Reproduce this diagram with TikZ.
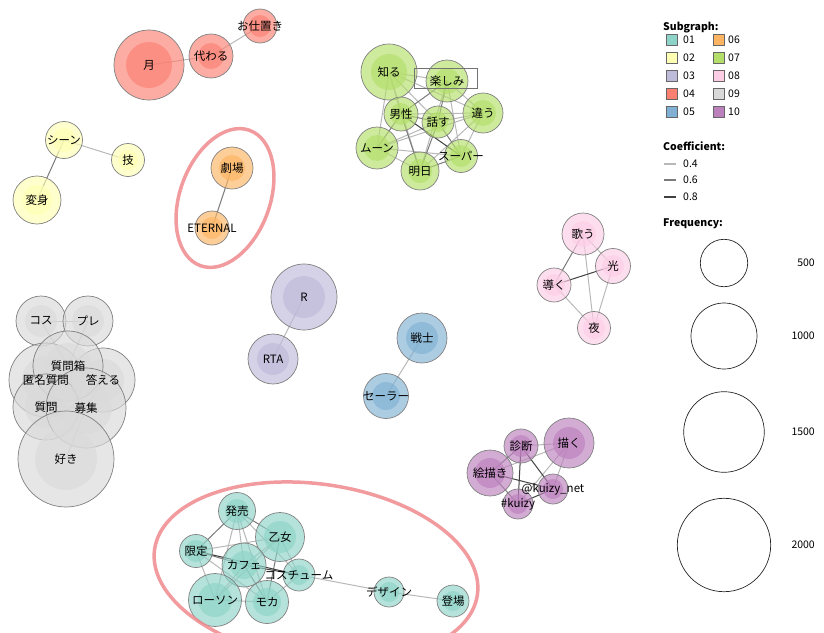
\documentclass[tikz,border=0pt]{standalone}
\usepackage{fontspec}
\setmainfont{Noto Sans CJK JP}
\usetikzlibrary{backgrounds}
\definecolor{c01}{HTML}{8DD3C7}
\definecolor{c02}{HTML}{FFFFB3}
\definecolor{c03}{HTML}{BEBADA}
\definecolor{c04}{HTML}{FB8072}
\definecolor{c05}{HTML}{80B1D3}
\definecolor{c06}{HTML}{FDB462}
\definecolor{c07}{HTML}{B3DE69}
\definecolor{c08}{HTML}{FCCDE5}
\definecolor{c09}{HTML}{D9D9D9}
\definecolor{c10}{HTML}{BC80BD}
\definecolor{ring}{HTML}{EE8A8E}
\newcommand\wordfont{\fontsize{11.5}{13}\selectfont}
\newcommand\keyfont{\fontsize{10.5}{12}\selectfont}
\tikzset{
    word/.style n args={3}{circle, draw=black!50, line width=0.7pt, fill=#1,
        fill opacity=0.65, minimum size=2*#2, inner sep=0pt,
        path picture={\fill[#1] (path picture bounding box.center) circle (#3);}},
    wordtext/.style={font=\wordfont, inner sep=0pt},
    e4/.style={draw=black!28, line width=1pt},
    e6/.style={draw=black!52, line width=1pt},
    e8/.style={draw=black!75, line width=1pt},
    group/.style={draw=ring, line width=3.5pt, draw opacity=0.85},
    keytext/.style={anchor=west, font=\keyfont, inner sep=0pt},
}
\begin{document}
\begin{tikzpicture}[x=1pt,y=-1pt]
        \useasboundingbox (0,0) rectangle (824,632);
        % subgraph 04
        \node[word={c04}{35}{23}] (tsuki) at (149,65) {};
        \node[word={c04}{22}{13}] (kawaru) at (211,56) {};
        \node[word={c04}{17}{11}] (oshioki) at (260,26) {};
        % subgraph 02
        \node[word={c02}{18.5}{12}] (scene) at (64,140) {};
        \node[word={c02}{16.5}{10}] (waza) at (128,160) {};
        \node[word={c02}{24}{15}] (henshin) at (37,200) {};
        % subgraph 06
        \node[word={c06}{21}{13}] (gekijo) at (232,168) {};
        \node[word={c06}{17}{11}] (eternal) at (212,228) {};
        % subgraph 07
        \node[word={c07}{28}{18}] (shiru) at (389,72) {};
        \node[word={c07}{21}{13}] (tanoshimi) at (447,81) {};
        \node[word={c07}{17}{11}] (dansei) at (401,114) {};
        \node[word={c07}{16}{10}] (hanasu) at (438,122) {};
        \node[word={c07}{20}{13}] (chigau) at (483,113) {};
        \node[word={c07}{21}{13}] (moon) at (377,148) {};
        \node[word={c07}{19}{12}] (ashita) at (420,171) {};
        \node[word={c07}{16.5}{11}] (super) at (461,156) {};
        % subgraph 09
        \node[word={c09}{25}{16}] (kos) at (41,321) {};
        \node[word={c09}{25}{16}] (pure) at (88,321) {};
        \node[word={c09}{37}{24}] (tokumei) at (46,380) {};
        \node[word={c09}{32}{21}] (kotaeru) at (103,380) {};
        \node[word={c09}{35}{23}] (shitsumonbako) at (68,366) {};
        \node[word={c09}{33}{21}] (shitsumon) at (46,407) {};
        \node[word={c09}{40}{26}] (boshu) at (86,408) {};
        \node[word={c09}{48}{31}] (suki) at (66,459) {};
        % subgraph 03 and 05
        \node[word={c03}{33}{21}] (R) at (304,297) {};
        \node[word={c03}{25}{16}] (rta) at (273,359) {};
        \node[word={c05}{25}{16}] (senshi) at (422,338) {};
        \node[word={c05}{22.5}{14}] (sailor) at (386,396) {};
        % subgraph 08
        \node[word={c08}{21}{13}] (utau) at (583,234) {};
        \node[word={c08}{17.5}{11}] (hikari) at (613,266) {};
        \node[word={c08}{17}{11}] (michibiku) at (554,285) {};
        \node[word={c08}{16.5}{11}] (yoru) at (594,328) {};
        % subgraph 10
        \node[word={c10}{25}{16}] (egaku) at (569,443) {};
        \node[word={c10}{17}{11}] (shindan) at (521,446) {};
        \node[word={c10}{23}{15}] (ekaki) at (490,473) {};
        \node[word={c10}{15}{10}] (kuizynet) at (553,489) {};
        \node[word={c10}{15}{10}] (kuizy) at (518,504) {};
        % subgraph 01
        \node[word={c01}{18.5}{12}] (hatsubai) at (237,511) {};
        \node[word={c01}{24.5}{16}] (otome) at (280,537) {};
        \node[word={c01}{16.5}{11}] (gentei) at (196,551) {};
        \node[word={c01}{22}{14}] (cafe) at (244,565) {};
        \node[word={c01}{16}{10}] (costume) at (299,575) {};
        \node[word={c01}{26.5}{17}] (lawson) at (215,600) {};
        \node[word={c01}{21.5}{14}] (mocha) at (267,602) {};
        \node[word={c01}{15}{10}] (design) at (389,592) {};
        \node[word={c01}{16}{10}] (tojo) at (453,601) {};
        \begin{scope}[on background layer]
            \foreach \a/\b in {tsuki/kawaru, kawaru/oshioki, scene/waza, R/rta, senshi/sailor,
                shiru/tanoshimi, shiru/dansei, shiru/hanasu, shiru/chigau, shiru/moon, shiru/ashita,
                tanoshimi/chigau, tanoshimi/ashita, tanoshimi/super, dansei/chigau, hanasu/chigau,
                hanasu/moon, chigau/super, chigau/ashita, moon/ashita, moon/super, moon/chigau,
                kos/pure, kos/shitsumonbako, pure/shitsumonbako, shitsumonbako/kotaeru,
                tokumei/shitsumon, boshu/suki, kotaeru/boshu,
                utau/hikari, utau/yoru, michibiku/yoru, hikari/yoru,
                egaku/shindan, egaku/ekaki, egaku/kuizynet, egaku/kuizy,
                hatsubai/cafe, hatsubai/lawson, hatsubai/mocha, hatsubai/costume, otome/gentei,
                otome/cafe, otome/lawson, otome/costume, gentei/lawson, gentei/mocha, cafe/lawson,
                lawson/mocha, mocha/costume, costume/design, design/tojo}
                \draw[e4] (\a.center) -- (\b.center);
            \foreach \a/\b in {scene/henshin, gekijo/eternal, tanoshimi/dansei, tanoshimi/hanasu,
                dansei/hanasu, dansei/moon, dansei/ashita, hanasu/ashita, hanasu/super, ashita/super,
                shitsumonbako/tokumei, shitsumon/boshu, utau/michibiku, shindan/ekaki, ekaki/kuizy,
                hatsubai/otome, hatsubai/gentei, otome/mocha, gentei/cafe, cafe/mocha}
                \draw[e6] (\a.center) -- (\b.center);
            \foreach \a/\b in {dansei/super, michibiku/hikari, shindan/kuizy, shindan/kuizynet,
                ekaki/kuizynet, kuizynet/kuizy, gentei/costume, cafe/costume}
                \draw[e8] (\a.center) -- (\b.center);
        \end{scope}
        \foreach \n/\t in {tsuki/月, kawaru/代わる, oshioki/お仕置き, scene/シーン, waza/技,
            henshin/変身, gekijo/劇場, eternal/ETERNAL, shiru/知る, tanoshimi/楽しみ, dansei/男性,
            hanasu/話す, chigau/違う, moon/ムーン, ashita/明日, super/スーパー, kos/コス, pure/プレ,
            tokumei/匿名質問, kotaeru/答える, shitsumonbako/質問箱, shitsumon/質問, boshu/募集,
            suki/好き, R/R, rta/RTA, senshi/戦士, sailor/セーラー, utau/歌う, hikari/光,
            michibiku/導く, yoru/夜, egaku/描く, shindan/診断, ekaki/絵描き,
            kuizynet/@kuizy\_net, kuizy/\#kuizy, hatsubai/発売, otome/乙女, gentei/限定,
            cafe/カフェ, costume/コスチューム, lawson/ローソン, mocha/モカ, design/デザイン, tojo/登場}
            \node[wordtext] at (\n) {\t};
        \draw[black!55, line width=0.7pt] (414,68) rectangle (477,88);
        \draw[group, rotate around={70:(225,198)}] (225,198) ellipse [x radius=72, y radius=45];
        \draw[group, rotate around={-8:(316,572)}] (316,572) ellipse [x radius=163, y radius=88];
        % legend
        \node[keytext, font=\keyfont\bfseries] (subgraph) at (663,28) {Subgraph:};
        \foreach \c [count=\i] in {01,02,03,04,05}
            {
                \draw[black!60, fill=c\c] (666,{27+18*\i}) rectangle ++(11,-11);
                \node[keytext] at (683,{21.5+18*\i}) {\c};
            }
        \foreach \c [count=\i] in {06,07,08,09,10}
            {
                \draw[black!60, fill=c\c] (713,{27+18*\i}) rectangle ++(11,-11);
                \node[keytext] at (728,{21.5+18*\i}) {\c};
            }
        \node[keytext, font=\keyfont\bfseries] (coefficient) at (663,146) {Coefficient:};
        \foreach \v/\y/\s in {0.4/164/e4, 0.6/180/e6, 0.8/197/e8}
            {
                \draw[\s, line width=1.5pt] (664,\y) -- (676,\y);
                \node[keytext] at (683,\y) {\v};
            }
        \node[keytext, font=\keyfont\bfseries] (frequency) at (663,224) {Frequency:};
        \foreach \f/\y/\r in {500/263/23.7, 1000/336/33, 1500/432/40.3, 2000/545/46.7}
            {
                \draw[black!85, line width=0.7pt] (724,\y) circle (\r);
                \node[keytext, anchor=east] at (815,\y) {\f};
            }
\end{tikzpicture}
\end{document}
